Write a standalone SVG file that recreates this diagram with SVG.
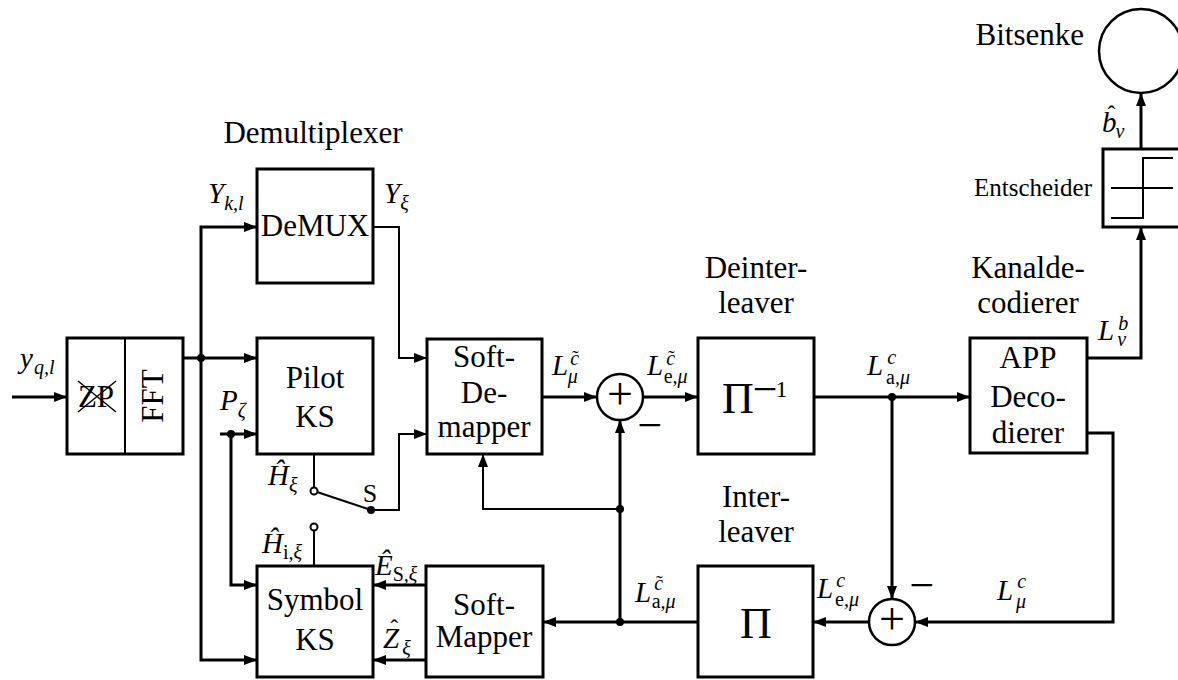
<svg xmlns="http://www.w3.org/2000/svg" width="1178" height="680" viewBox="0 0 1178 680">
<style>
.bx{fill:#fff;stroke:#000;stroke-width:3}
.ln{fill:none;stroke:#000;stroke-width:3}
.tn{fill:none;stroke:#000;stroke-width:2}
.ar{marker-end:url(#ah)}
.dot{fill:#000}
.oc{fill:#fff;stroke:#000;stroke-width:2}
.t{font-family:"Liberation Serif","Times New Roman",serif;font-size:31px;fill:#000;text-anchor:middle}
.m{font-family:"Liberation Serif","Times New Roman",serif;font-size:29px;font-style:italic;fill:#000}
.sz{font-size:20px}
.u{font-style:normal}
.hat{font-style:normal;font-size:24px}
.til{font-style:normal;font-size:20px}
</style>
<defs>
<marker id="ah" markerUnits="userSpaceOnUse" markerWidth="14" markerHeight="12" refX="13" refY="6" orient="auto">
<path d="M0,1 L13,6 L0,11 z" fill="#000"/>
</marker>
</defs>

<g id="connectors">
<path class="ln ar" d="M12 397 H67"/>
<path class="ln ar" d="M183 358 H257"/>
<path class="ln ar" d="M201 358 V227 H257"/>
<path class="ln ar" d="M201 358 V660 H257"/>
<path class="tn ar" d="M373 227 H399 V358 H427"/>
<path class="ln ar" d="M220 434 H257"/>
<path class="ln ar" d="M231 434 V585 H257"/>
<path class="tn" d="M314 454 V488"/>
<path class="tn" d="M317 492 L371 510"/>
<path class="tn ar" d="M371 510 H399 V434 H427"/>
<path class="tn" d="M314 530 V566"/>
<path class="ln ar" d="M542 397 H597"/>
<path class="ln ar" d="M643 397 H698"/>
<path class="ln ar" d="M814 397 H970"/>
<path class="ln ar" d="M892 397 V599"/>
<path class="ln ar" d="M1087 358 H1141 V227"/>
<path class="ln ar" d="M1141 149 V93"/>
<path class="ln ar" d="M1087 433 H1113 V622 H915"/>
<path class="ln ar" d="M869 622 H813"/>
<path class="ln ar" d="M698 622 H543"/>
<path class="ln ar" d="M620 622 V420"/>
<path class="tn ar" d="M620 509 H483 V454"/>
<path class="ln ar" d="M426 585 H373"/>
<path class="ln ar" d="M426 660 H373"/>
<circle class="dot" cx="201" cy="358" r="4"/>
<circle class="dot" cx="231" cy="434" r="4"/>
<circle class="dot" cx="371" cy="510" r="4"/>
<circle class="dot" cx="620" cy="509" r="4"/>
<circle class="dot" cx="620" cy="622" r="4"/>
<circle class="dot" cx="892" cy="397" r="4"/>
<circle class="oc" cx="314" cy="491" r="3.5"/>
<circle class="oc" cx="314" cy="527" r="3.5"/>
</g>

<g id="fft">
<rect class="bx" x="67" y="338" width="116" height="116"/>
<line x1="125" y1="338" x2="125" y2="454" stroke="#000" stroke-width="2"/>
<text class="t" x="96" y="407">ZP</text>
<line x1="78" y1="381" x2="116" y2="412" stroke="#000" stroke-width="1.5"/>
<line x1="78" y1="412" x2="116" y2="381" stroke="#000" stroke-width="1.5"/>
<text class="t" transform="translate(163,396) rotate(-90)">FFT</text>
</g>

<g id="demux">
<rect class="bx" x="257" y="169" width="116" height="114"/>
<text class="t" x="315" y="236">DeMUX</text>
<text class="t" x="313" y="143">Demultiplexer</text>
</g>

<g id="pilotks">
<rect class="bx" x="257" y="338" width="116" height="116"/>
<text class="t" x="315" y="388">Pilot</text>
<text class="t" x="315" y="427">KS</text>
</g>

<g id="symbolks">
<rect class="bx" x="257" y="566" width="116" height="111"/>
<text class="t" x="315" y="610">Symbol</text>
<text class="t" x="315" y="650">KS</text>
</g>

<g id="softdemapper">
<rect class="bx" x="427" y="339" width="115" height="115"/>
<text class="t" x="484" y="367">Soft-</text>
<text class="t" x="484" y="403">De-</text>
<text class="t" x="484" y="437">mapper</text>
</g>

<g id="softmapper">
<rect class="bx" x="426" y="566" width="117" height="111"/>
<text class="t" x="484" y="615">Soft-</text>
<text class="t" x="484" y="647">Mapper</text>
</g>

<g id="adder1">
<circle cx="620" cy="397" r="23" fill="#fff" stroke="#000" stroke-width="2.5"/>
<text class="t" x="620" y="409" style="font-size:46px">+</text>
</g>

<g id="deinterleaver">
<rect class="bx" x="698" y="338" width="116" height="116"/>
<text class="t" x="756" y="278">Deinter-</text>
<text class="t" x="756" y="313">leaver</text>
<text x="722" y="413" style="font-family:'Liberation Serif','Times New Roman',serif;font-size:44px">Π<tspan dx="-1" dy="-9">−</tspan><tspan dx="-2" dy="-7" style="font-size:24px">1</tspan></text>
</g>

<g id="interleaver">
<rect class="bx" x="698" y="566" width="115" height="111"/>
<text class="t" x="756" y="507">Inter-</text>
<text class="t" x="756" y="542">leaver</text>
<text class="t" x="756" y="638" style="font-size:44px">Π</text>
</g>

<g id="adder2">
<circle cx="892" cy="622" r="23" fill="#fff" stroke="#000" stroke-width="2.5"/>
<text class="t" x="892" y="634" style="font-size:46px">+</text>
</g>

<g id="appdecoder">
<rect class="bx" x="970" y="338" width="117" height="115"/>
<text class="t" x="1028" y="368">APP</text>
<text class="t" x="1028" y="407">Deco-</text>
<text class="t" x="1028" y="443">dierer</text>
<text class="t" x="1028" y="278">Kanalde-</text>
<text class="t" x="1028" y="313">codierer</text>
</g>

<g id="entscheider">
<rect class="bx" x="1103" y="149" width="78" height="78"/>
<line x1="1111" y1="188" x2="1173" y2="188" stroke="#000" stroke-width="2"/>
<path d="M1111 218 H1143 V158 H1173" fill="none" stroke="#000" stroke-width="2"/>
<text class="t" x="1092" y="196" style="text-anchor:end;font-size:25px">Entscheider</text>
</g>

<g id="bitsenke">
<circle cx="1141" cy="51" r="42" fill="#fff" stroke="#000" stroke-width="2.5"/>
<text class="t" x="1084" y="45" style="text-anchor:end">Bitsenke</text>
</g>

<g id="labels">
<text class="m" x="20" y="368">y<tspan class="sz" dx="1" dy="6">q,l</tspan></text>
<text class="m" x="208" y="203">Y<tspan class="sz" dx="0" dy="7">k,l</tspan></text>
<text class="m" x="384" y="203">Y<tspan class="sz" dx="0" dy="7">ξ</tspan></text>
<text class="m" x="220" y="410">P<tspan class="sz" dx="0" dy="7">ζ</tspan></text>
<text class="m" x="268" y="485">Ĥ<tspan class="sz" dx="0" dy="7">ξ</tspan></text>
<text class="t" x="370" y="502" style="font-size:26px">S</text>
<text class="m" x="262" y="553">Ĥ<tspan class="sz" dx="0" dy="6"><tspan class="u">i</tspan>,ξ</tspan></text>
<text class="m" x="375" y="575">Ê<tspan class="sz" dx="0" dy="6"><tspan class="u">S</tspan>,ξ</tspan></text>
<text class="m" x="383" y="648">Z<tspan class="hat" dx="-9" dy="-12">ˆ</tspan><tspan class="sz" dx="4" dy="19">ξ</tspan></text>
<text class="m" x="1102" y="132">b<tspan class="hat" dx="-9" dy="-10">ˆ</tspan><tspan class="sz" dx="0" dy="16">ν</tspan></text>
<text class="m" x="552" y="375">L<tspan class="sz" dx="2" dy="-10">c</tspan><tspan class="til" dx="-7">˜</tspan><tspan class="sz" dx="-11" dy="18">μ</tspan></text>
<text class="m" x="647" y="375">L<tspan class="sz" dx="3" dy="-10">c</tspan><tspan class="til" dx="-7">˜</tspan><tspan class="sz" dx="-11" dy="18"><tspan class="u">e</tspan>,μ</tspan></text>
<text class="m" x="867" y="375">L<tspan class="sz" dx="4" dy="-11">c</tspan><tspan class="sz" dx="-10" dy="20"><tspan class="u">a</tspan>,μ</tspan></text>
<text class="m" x="635" y="602">L<tspan class="sz" dx="3" dy="-12">c</tspan><tspan class="til" dx="-7">˜</tspan><tspan class="sz" dx="-11" dy="18"><tspan class="u">a</tspan>,μ</tspan></text>
<text class="m" x="817" y="598">L<tspan class="sz" dx="3" dy="-11">c</tspan><tspan class="sz" dx="-10" dy="19"><tspan class="u">e</tspan>,μ</tspan></text>
<text class="m" x="997" y="600">L<tspan class="sz" dx="4" dy="-12">c</tspan><tspan class="sz" dx="-10" dy="20">μ</tspan></text>
<text class="m" x="1098" y="340">L<tspan class="sz" dx="4" dy="-10">b</tspan><tspan class="sz" dx="-11" dy="16">ν</tspan></text>
<text class="t" x="650" y="440" style="font-size:44px">−</text>
<text class="t" x="922" y="600" style="font-size:44px">−</text>
</g>
</svg>
